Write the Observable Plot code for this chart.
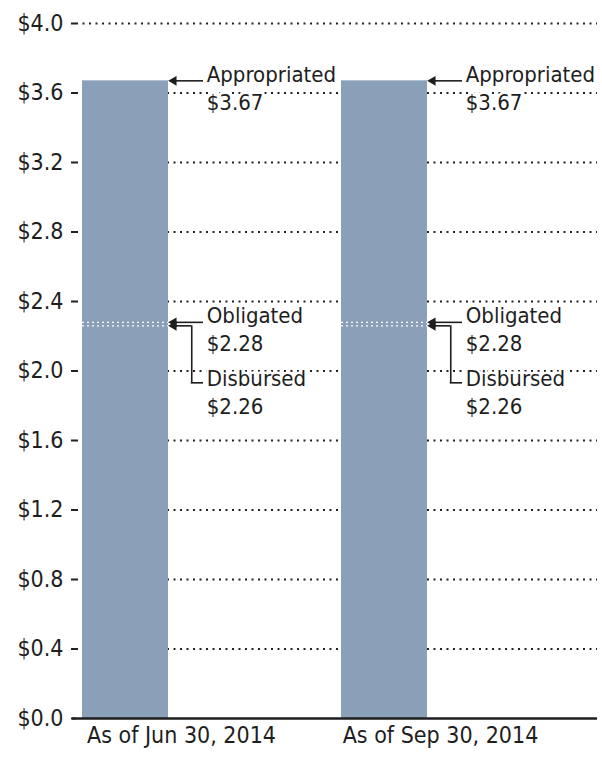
<!DOCTYPE html>
<html>
<head>
<meta charset="utf-8">
<script src="https://cdn.jsdelivr.net/npm/d3@7"></script>
<script src="https://cdn.jsdelivr.net/npm/@observablehq/plot@0.6"></script>
<style>
  html, body { margin: 0; padding: 0; background: #fff; }
  #chart svg { font-family: "DejaVu Sans Condensed", "DejaVu Sans", sans-serif; font-stretch: condensed; }
</style>
</head>
<body>
<div id="chart"></div>
<script>
// ---- data ----
const periods = ["As of Jun 30, 2014", "As of Sep 30, 2014"];
const appropriated = [3.67, 3.67];
const obligated = [2.28, 2.28];
const disbursed = [2.26, 2.26];
const yTicks = [0, 0.4, 0.8, 1.2, 1.6, 2.0, 2.4, 2.8, 3.2, 3.6, 4.0];

const bars = periods.map((p, i) => ({period: p, value: appropriated[i]}));
const appr = periods.map((p, i) => ({period: p, value: appropriated[i], label: `Appropriated\n$${appropriated[i].toFixed(2)}`}));
const obl = periods.map((p, i) => ({period: p, value: obligated[i], label: `Obligated\n$${obligated[i].toFixed(2)}`}));
const dis = periods.map((p, i) => ({period: p, value: disbursed[i], label: `Disbursed\n$${disbursed[i].toFixed(2)}`}));

const ink = "#1e1e1e";
const bw = 86.5;

const chart = Plot.plot({
  width: 602,
  height: 757,
  marginTop: 23,
  marginBottom: 39,
  marginLeft: 76,
  marginRight: 5,
  x: {domain: periods, range: [82, 428], paddingInner: 0.6667, paddingOuter: 0, align: 0},
  y: {domain: [0, 4], range: [718, 23]},
  marks: [
    Plot.ruleY(yTicks.filter(d => d > 0), {y: d => d, stroke: "#222", strokeWidth: 2, strokeDasharray: "2,4.5"}),
    Plot.barY(bars, {x: "period", y: "value", fill: "#8aa0b9"}),
    Plot.tickY(obl, {x: "period", y: "value", stroke: "white", strokeWidth: 1.3, strokeDasharray: "2,3"}),
    Plot.tickY(dis, {x: "period", y: "value", stroke: "white", strokeWidth: 1.3, strokeDasharray: "2,3"}),
    // connectors
    Plot.tickY(appr, {x: "period", y: "value", stroke: ink, strokeWidth: 1.6, insetLeft: bw + 4, insetRight: -35}),
    Plot.tickY(obl, {x: "period", y: "value", stroke: ink, strokeWidth: 1.6, insetLeft: bw + 4, insetRight: -35}),
    Plot.tickY(dis, {x: "period", y: "value", stroke: ink, strokeWidth: 1.6, insetLeft: bw + 4, insetRight: -23}),
    Plot.ruleX(dis, {x: "period", y1: "value", y2: "value", dx: bw / 2 + 23, insetBottom: -57, stroke: ink, strokeWidth: 1.6}),
    Plot.tickY(dis, {x: "period", y: "value", dy: 57, stroke: ink, strokeWidth: 1.6, insetLeft: bw + 22.2, insetRight: -35}),
    Plot.dot([...appr, ...obl, ...dis], {x: "period", y: "value", symbol: "triangle", rotate: -90, r: 3.6, fill: ink, dx: bw / 2 + 5}),
    // labels
    Plot.text([...appr, ...obl], {x: "period", y: "value", text: "label", dx: bw / 2 + 38, dy: 6, textAnchor: "start", lineAnchor: "middle", lineHeight: 1.27, fontSize: 22, fill: ink, stroke: "white", strokeWidth: 5}),
    Plot.text(dis, {x: "period", y: "value", text: "label", dx: bw / 2 + 38, dy: 65, textAnchor: "start", lineAnchor: "middle", lineHeight: 1.27, fontSize: 22, fill: ink, stroke: "white", strokeWidth: 5}),
    Plot.ruleY([0], {stroke: ink, strokeWidth: 2.4, insetLeft: -4}),
    Plot.axisY({ticks: yTicks, tickFormat: d => "$" + d.toFixed(1), tickSize: 5, tickPadding: 8, fontSize: 23, color: ink, stroke: "#222", strokeWidth: 2, label: null}),
    Plot.axisX({tickSize: 0, tickPadding: 8, dx: 56, fontSize: 23, color: ink, label: null})
  ]
});
document.getElementById("chart").appendChild(chart);
</script>
</body>
</html>
